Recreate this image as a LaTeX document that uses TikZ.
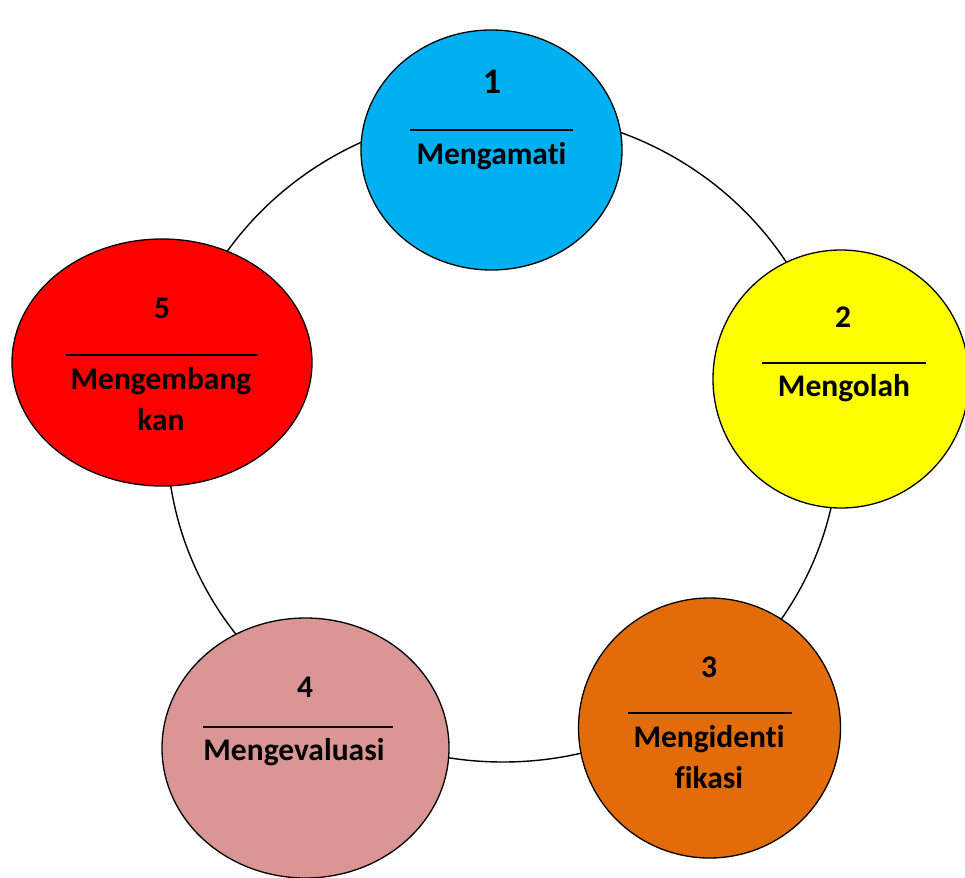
\documentclass[tikz,border=0pt]{standalone}
\usepackage{fontspec}
\setmainfont[Ligatures=NoCommon]{Carlito}
\usetikzlibrary{shapes.geometric}

\definecolor{cBlue}{RGB}{0,176,240}
\definecolor{cYellow}{RGB}{255,255,0}
\definecolor{cOrange}{RGB}{226,107,10}
\definecolor{cPink}{RGB}{218,150,148}
\definecolor{cRed}{RGB}{255,0,0}

\tikzset{
	stage/.style={ellipse, draw=black, line width=1.3pt, inner sep=0pt},
	num/.style={font=\fontsize{31.5}{40.5}\selectfont\bfseries, inner sep=0pt},
	lbl/.style={font=\fontsize{31.5}{40.5}\selectfont\bfseries, inner sep=0pt, align=center, anchor=base},
	rule/.style={line width=1.3pt}
}

\begin{document}
\begin{tikzpicture}[x=1pt,y=-1pt]
	\useasboundingbox (0,0) rectangle (965,877);
	\draw[black, line width=1.4pt] (503,437) ellipse [x radius=336pt, y radius=325pt];
	\node[stage, fill=cBlue, minimum width=261pt, minimum height=240pt] (s1) at (491.5,150) {};
	\node[stage, fill=cYellow, minimum width=256pt, minimum height=258pt] (s2) at (841,379) {};
	\node[stage, fill=cOrange, minimum width=262pt, minimum height=260pt] (s3) at (709.5,728) {};
	\node[stage, fill=cPink, minimum width=287pt, minimum height=260pt] (s4) at (305.5,748) {};
	\node[stage, fill=cRed, minimum width=300pt, minimum height=247pt] (s5) at (162,362.5) {};
	\node[num, font=\fontsize{36}{44}\selectfont\bfseries] (n1) at (492,81.5) {1};
	\node[num] (n2) at (843,317) {2};
	\node[num] (n3) at (709,667) {3};
	\node[num] (n4) at (305,687.5) {4};
	\node[num] (n5) at (162,308) {5};
	\draw[rule] (410,130) -- (573,130);
	\draw[rule] (762,363) -- (926,363);
	\draw[rule] (628,713) -- (792,713);
	\draw[rule] (203,727) -- (393,727);
	\draw[rule] (66,355) -- (258,355);
	\node[lbl] (t1) at (491.5,165) {Mengamati};
	\node[lbl] (t2) at (844,396) {Mengolah};
	\node[lbl] (t3) at (709,788) {Mengidenti\\fikasi};
	\node[lbl] (t4) at (294,760) {Mengevaluasi};
	\node[lbl] (t5) at (161,430) {Mengembang\\kan};
\end{tikzpicture}
\end{document}
